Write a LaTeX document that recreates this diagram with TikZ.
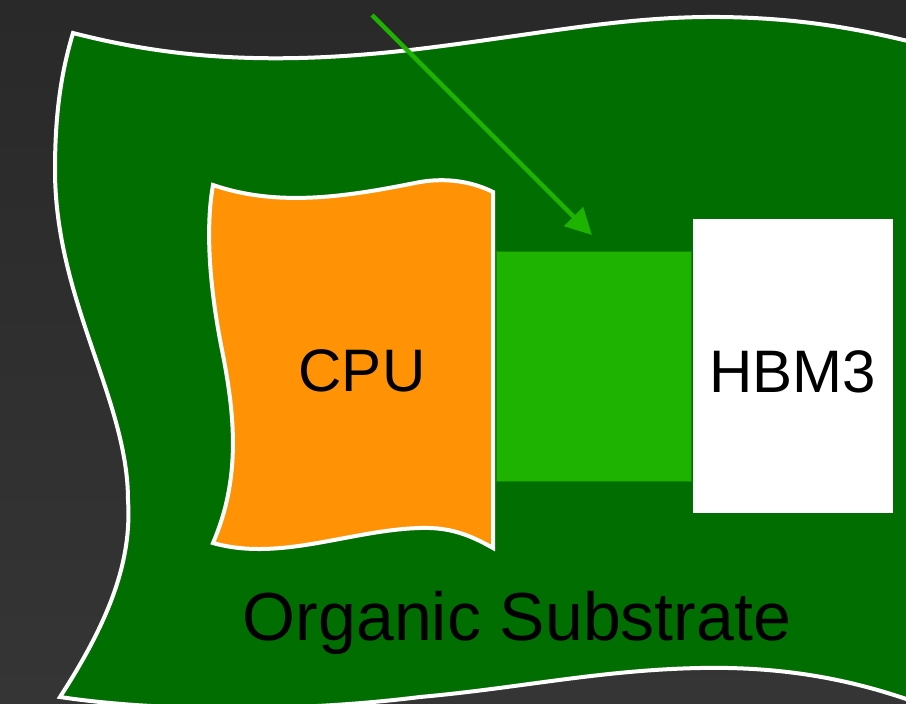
\documentclass[tikz,border=0pt]{standalone}
\usepackage{fontspec}
\setmainfont{Liberation Sans}
\usetikzlibrary{arrows.meta}
\definecolor{bgtop}{HTML}{292929}
\definecolor{bgbot}{HTML}{353535}
\definecolor{substrate}{HTML}{006E00}
\definecolor{cpuorange}{HTML}{FF9305}
\definecolor{bridgegreen}{HTML}{1DB300}
\definecolor{bridgeedge}{HTML}{0F8A00}
\tikzset{
  outline/.style={draw=white, line width=4pt, line join=miter},
  label/.style={text=black, inner sep=0pt, anchor=center},
  pointer/.style={draw=bridgegreen, line width=4.5pt, -{Triangle[length=26pt,width=26pt]}},
}
\begin{document}
\begin{tikzpicture}[x=1pt,y=-1pt]
\useasboundingbox (0,0) rectangle (906,704);
\clip (0,0) rectangle (906,704);
\shade[top color=bgtop, bottom color=bgbot] (0,0) rectangle (906,704);
% substrate
\path[fill=substrate, outline]
  (73,33) .. controls (170,58) and (270,66) .. (410,50)
  .. controls (530,36) and (620,16) .. (720,17)
  .. controls (810,18) and (880,32) .. (960,55)
  -- (960,720)
  .. controls (880,685) and (800,666) .. (700,668)
  .. controls (600,670) and (520,688) .. (420,697)
  .. controls (300,712) and (160,712) .. (60,697)
  .. controls (110,620) and (132,560) .. (128,500)
  .. controls (128,400) and (55,300) .. (55,170)
  .. controls (55,110) and (62,70) .. (73,33) -- cycle;
\node[label, font=\fontsize{68}{68}\selectfont] (sub) at (517,623) {Organic Substrate};
% bridge
\node[draw=bridgeedge, line width=1pt, fill=bridgegreen, minimum width=195pt, minimum height=230pt, inner sep=0pt] (bridge) at (593.5,366) {};
% CPU
\path[fill=cpuorange, outline]
  (213,185) .. controls (280,208) and (350,196) .. (420,182)
  .. controls (450,177) and (475,183) .. (493,192)
  -- (493,548)
  .. controls (470,535) and (450,527) .. (420,528)
  .. controls (350,530) and (280,562) .. (213,543)
  .. controls (240,480) and (236,420) .. (222,350)
  .. controls (210,290) and (205,230) .. (213,185) -- cycle;
\node[label, font=\fontsize{60}{60}\selectfont] (cpu) at (362,371) {CPU};
% HBM3
\node[fill=white, minimum width=200pt, minimum height=294pt, inner sep=0pt] (hbm) at (793,366) {};
\node[label, font=\fontsize{60}{60}\selectfont] (hbmtext) at (hbm.center) [yshift=-6pt] {HBM3};
% arrow
\coordinate (astart) at (372,15);
\coordinate (aend) at (592,235);
\draw[pointer] (astart) -- (aend);
\end{tikzpicture}
\end{document}
